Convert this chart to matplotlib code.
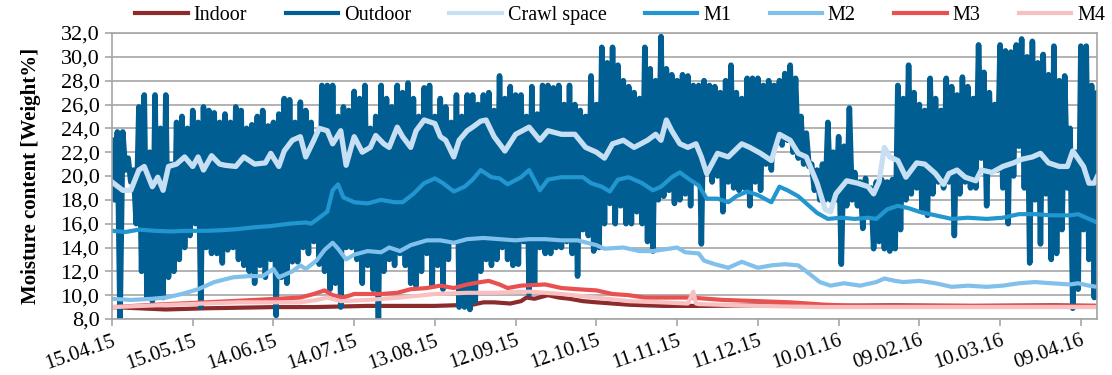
import numpy as np
import pandas as pd
import matplotlib
matplotlib.use('Agg')
import matplotlib.pyplot as plt
from matplotlib.ticker import FuncFormatter

plt.rcParams['font.family'] = ['Liberation Serif', 'DejaVu Serif']

start = pd.Timestamp('2015-04-15')

# outdoor: one peak and one trough every two days (days 0, 2, ..., 366)
outdoor_hi = [23.0, 23.7, 23.7, 21.5, 20.5, 25.8, 26.8, 22.0, 26.8, 24.0, 26.8, 21.0, 24.5, 25.0, 24.0,
              25.5, 24.5, 25.8, 25.5, 25.3, 24.5, 25.2, 24.5, 25.8, 25.5, 24.0, 24.3, 25.0, 25.5, 24.2,
              24.5, 25.2, 26.5, 26.4, 24.5, 26.2, 25.5, 24.5, 23.5, 27.6, 27.6, 27.6, 25.0, 25.8, 25.5,
              27.1, 26.5, 27.6, 24.0, 25.0, 27.6, 26.5, 25.8, 27.6, 27.0, 27.8, 26.5, 25.0, 27.4, 27.6,
              25.0, 26.5, 25.8, 24.5, 26.8, 25.0, 26.8, 26.8, 26.0, 26.8, 27.0, 25.5, 28.4, 26.5, 27.5,
              26.8, 26.8, 25.0, 27.5, 25.2, 27.6, 27.6, 27.4, 27.6, 26.0, 27.6, 26.0, 25.5, 25.0, 28.4,
              26.0, 30.8, 29.5, 30.8, 29.3, 28.0, 27.5, 27.0, 26.5, 30.8, 29.0, 28.0, 31.7, 29.0, 28.5,
              28.0, 28.5, 28.4, 27.6, 27.6, 28.0, 27.6, 27.5, 27.0, 28.0, 29.3, 27.0, 26.5, 28.2, 28.2,
              28.2, 27.6, 28.0, 27.6, 28.0, 28.6, 29.3, 28.2, 25.0, 23.6, 21.0, 20.5, 21.0, 24.5, 22.0,
              23.3, 22.5, 25.7, 20.3, 19.5, 19.8, 19.0, 19.5, 19.7, 19.5, 19.7, 27.6, 26.5, 29.3, 27.0,
              26.0, 25.5, 28.2, 26.5, 25.5, 28.2, 27.5, 26.8, 28.3, 27.5, 26.5, 31.0, 28.7, 27.0, 26.0,
              31.0, 30.5, 30.4, 31.0, 31.5, 30.0, 31.3, 29.5, 30.2, 28.5, 30.9, 28.0, 28.4, 24.0, 22.0,
              30.9, 30.9, 27.6, 27.0]
outdoor_lo = [18.0, 8.0, 20.5, 19.5, 16.0, 12.0, 9.8, 9.5, 10.0, 9.8, 11.5, 12.0, 13.0, 14.0, 15.0,
              16.0, 9.0, 14.0, 13.5, 13.5, 12.7, 13.8, 14.0, 13.0, 12.5, 12.0, 11.0, 12.5, 11.5, 13.0,
              8.3, 11.5, 11.0, 12.8, 12.8, 14.0, 13.5, 14.5, 12.6, 12.0, 10.5, 11.0, 9.0, 14.0, 14.0,
              13.0, 11.0, 12.5, 10.5, 8.0, 12.0, 13.0, 12.5, 13.5, 12.5, 11.0, 10.8, 12.0, 13.5, 10.8,
              12.5, 10.5, 13.0, 14.5, 9.0, 9.0, 8.8, 9.5, 12.0, 13.0, 12.5, 13.0, 14.0, 13.0, 12.5,
              12.6, 14.5, 10.1, 11.0, 14.0, 13.5, 13.5, 14.0, 14.0, 14.5, 13.5, 11.6, 15.5, 15.0, 13.7,
              14.0, 16.0, 17.7, 16.0, 17.5, 16.0, 16.0, 17.0, 16.0, 14.5, 13.7, 18.0, 18.3, 18.8, 17.7,
              18.0, 18.5, 17.5, 19.5, 14.3, 20.5, 19.5, 20.0, 17.0, 19.5, 19.0, 18.8, 19.0, 17.5, 19.5,
              18.8, 21.0, 20.5, 23.0, 22.6, 23.0, 22.0, 21.5, 21.0, 20.8, 18.8, 18.0, 18.0, 18.0, 18.0,
              12.6, 17.5, 18.0, 17.5, 15.6, 16.7, 13.9, 14.5, 13.9, 13.7, 13.9, 15.5, 18.0, 18.5, 19.0,
              17.0, 16.7, 18.5, 19.5, 19.0, 19.5, 15.0, 18.5, 19.5, 19.0, 19.0, 21.5, 17.5, 20.5, 20.5,
              19.0, 16.0, 20.0, 22.5, 19.0, 12.7, 18.0, 14.3, 18.5, 13.0, 13.5, 15.5, 19.0, 8.9, 10.5,
              15.5, 13.0, 9.8, 8.0]

crawl_day = [0, 4, 7, 10, 12, 15, 17, 19, 21, 24, 27, 30, 32, 34, 37, 40, 42, 46, 49, 53,
             57, 59, 62, 64, 67, 70, 72, 75, 77, 80, 82, 85, 87, 90, 93, 96, 98, 101, 103, 106,
             108, 111, 113, 116, 120, 122, 124, 127, 129, 132, 134, 137, 139, 142, 146, 150, 155, 159, 162, 167,
             172, 176, 180, 183, 186, 190, 194, 199, 202, 204, 206, 208, 211, 214, 217, 219, 221, 225, 229, 234,
             237, 241, 245, 248, 252, 255, 258, 262, 265, 267, 269, 273, 277, 281, 283, 285, 287, 289, 292, 295,
             299, 302, 306, 309, 311, 314, 317, 321, 323, 327, 331, 335, 338, 342, 345, 348, 352, 355, 357, 361,
             363, 365, 366]
crawl_val = [19.5, 18.8, 18.8, 20.5, 20.8, 19.1, 19.9, 18.8, 20.8, 21.0, 21.6, 20.8, 21.6, 20.5, 21.7, 21.0, 20.9, 20.8, 21.6, 21.0,
             21.1, 21.9, 20.8, 22.1, 23.0, 23.3, 21.6, 23.0, 24.0, 23.8, 22.7, 23.8, 20.9, 23.3, 22.0, 22.4, 23.4, 22.7, 22.4, 24.1,
             23.3, 22.4, 23.8, 24.7, 24.4, 23.3, 23.0, 21.6, 23.0, 23.8, 24.1, 24.6, 24.7, 23.3, 22.1, 23.5, 24.1, 23.0, 23.8, 23.5,
             23.5, 22.4, 22.0, 21.5, 22.7, 23.0, 22.4, 23.0, 23.5, 23.0, 24.7, 23.8, 22.7, 22.4, 22.7, 21.6, 20.2, 21.9, 21.6, 22.7,
             22.4, 21.9, 21.3, 23.5, 23.0, 21.9, 21.6, 19.4, 17.2, 17.0, 18.5, 19.6, 19.4, 19.1, 18.5, 19.5, 22.4, 21.6, 21.3, 19.9,
             21.1, 21.0, 20.2, 19.3, 20.2, 20.5, 19.9, 19.6, 20.5, 20.3, 20.8, 21.1, 21.4, 21.6, 21.9, 21.1, 20.8, 20.8, 22.1, 20.8,
             19.4, 19.4, 19.9]

m1_day = [0, 5, 10, 16, 22, 28, 35, 41, 47, 53, 59, 66, 72, 74, 77, 80, 82, 84, 86, 90,
          95, 100, 105, 108, 112, 116, 120, 123, 127, 131, 134, 137, 141, 144, 147, 152, 155, 159, 162, 167,
          172, 175, 178, 182, 185, 188, 192, 197, 201, 204, 208, 211, 214, 218, 221, 225, 229, 232, 236, 240,
          245, 248, 251, 255, 258, 262, 266, 271, 276, 281, 284, 288, 292, 296, 300, 306, 312, 318, 325, 331,
          337, 343, 349, 356, 359, 363, 366]
m1_val = [15.4, 15.3, 15.5, 15.4, 15.35, 15.4, 15.4, 15.45, 15.55, 15.7, 15.8, 16.0, 16.1, 16.0, 16.5, 17.0, 18.8, 19.3, 18.2, 17.8,
          17.7, 18.0, 17.8, 17.8, 18.5, 19.4, 19.8, 19.4, 18.7, 19.1, 19.7, 20.5, 19.9, 19.8, 19.3, 19.9, 20.5, 18.8, 19.7, 19.9,
          19.9, 19.9, 19.4, 19.1, 18.7, 19.7, 19.9, 19.4, 18.8, 19.1, 19.9, 20.3, 19.8, 19.2, 18.1, 18.1, 17.8, 18.3, 18.7, 18.4,
          17.8, 19.1, 18.8, 18.3, 17.7, 16.9, 16.4, 16.5, 16.4, 16.5, 16.4, 17.2, 17.5, 17.3, 17.0, 16.7, 16.4, 16.5, 16.4, 16.5,
          16.8, 16.8, 16.7, 16.7, 16.8, 16.4, 16.1]

m2_day = [0, 7, 15, 20, 26, 32, 38, 45, 51, 56, 60, 62, 67, 70, 72, 76, 79, 82, 84, 87,
          90, 95, 100, 103, 107, 111, 117, 122, 127, 132, 138, 144, 150, 155, 161, 167, 173, 180, 183, 190,
          196, 201, 207, 210, 213, 218, 220, 224, 229, 234, 240, 245, 250, 255, 258, 263, 267, 272, 278, 284,
          287, 291, 294, 300, 306, 312, 318, 325, 331, 337, 343, 349, 356, 359, 363, 366]
m2_val = [9.7, 9.6, 9.7, 9.8, 10.1, 10.5, 11.1, 11.5, 11.6, 11.6, 12.2, 11.5, 12.0, 12.5, 12.2, 12.9, 13.8, 14.4, 13.9, 13.0,
          13.4, 13.7, 13.6, 14.0, 13.7, 14.2, 14.6, 14.6, 14.4, 14.7, 14.8, 14.7, 14.6, 14.7, 14.7, 14.6, 14.6, 14.2, 13.9, 14.0,
          13.7, 13.7, 13.9, 14.0, 13.6, 13.5, 12.9, 12.6, 12.3, 12.8, 12.3, 12.5, 12.6, 12.5, 12.0, 11.1, 10.8, 11.0, 10.8, 11.1,
          11.4, 11.2, 11.1, 11.2, 11.0, 10.7, 10.8, 10.7, 10.8, 11.0, 11.1, 11.0, 10.9, 11.0, 10.8, 10.7]

m3_day = [0, 16, 35, 53, 70, 75, 79, 82, 86, 90, 95, 100, 106, 111, 117, 122, 127, 132, 137, 140,
          144, 147, 152, 161, 167, 173, 180, 186, 192, 198, 205, 215, 227, 240, 252, 265, 277, 289, 366]
m3_val = [9.0, 9.2, 9.4, 9.6, 9.8, 10.1, 10.4, 10.0, 9.8, 10.1, 10.1, 10.1, 10.2, 10.5, 10.6, 10.8, 10.6, 10.9, 11.1, 11.2,
          10.9, 10.6, 10.8, 10.9, 10.6, 10.5, 10.4, 10.1, 10.0, 9.8, 9.8, 9.8, 9.6, 9.5, 9.4, 9.2, 9.1, 9.1, 9.1]

m4_day = [0, 22, 47, 70, 76, 80, 85, 95, 107, 120, 132, 142, 155, 167, 180, 192, 204, 214, 216, 217,
          218, 240, 265, 290, 366]
m4_val = [9.0, 9.2, 9.4, 9.4, 9.6, 9.8, 9.5, 9.6, 9.8, 10.1, 10.2, 10.2, 10.3, 10.1, 9.8, 9.5, 9.4, 9.3, 10.3, 9.3,
          9.25, 9.1, 9.0, 9.0, 9.0]

indoor_day = [0, 10, 20, 35, 60, 75, 95, 120, 134, 138, 142, 148, 152, 154, 157, 162, 166, 170, 175, 180,
              186, 192, 198, 205, 220, 240, 260, 290, 320, 350, 366]
indoor_val = [9.0, 8.9, 8.8, 8.9, 9.0, 9.0, 9.1, 9.1, 9.2, 9.4, 9.4, 9.3, 9.5, 9.8, 9.7, 10.0, 9.8, 9.7, 9.5, 9.4,
              9.3, 9.2, 9.15, 9.1, 9.1, 9.15, 9.1, 9.15, 9.1, 9.15, 9.1]


def to_dates(days):
    return start + pd.to_timedelta(np.asarray(days, dtype=float), unit='D')


# interleave peaks and troughs of the outdoor series
hi_days = np.arange(len(outdoor_hi)) * 2
out_days = np.empty(2 * len(hi_days))
out_days[0::2] = hi_days
out_days[1::2] = hi_days + 1
out_vals = np.empty(2 * len(hi_days))
out_vals[0::2] = outdoor_hi
out_vals[1::2] = outdoor_lo

fig = plt.figure(figsize=(11.12, 3.75), dpi=100)
ax = fig.add_axes([0.1007, 0.1493, 0.8858, 0.7627])

lw = 3.0
ax.plot(to_dates(indoor_day), indoor_val, color='#8C2B2B', lw=lw, label='Indoor')
ax.plot(to_dates(out_days), out_vals, color='#005E93', lw=4.0, label='Outdoor')
ax.plot(to_dates(crawl_day), crawl_val, color='#C6DFF3', lw=lw + 0.8, label='Crawl space')
ax.plot(to_dates(m1_day), m1_val, color='#2196CF', lw=lw, label='M1')
ax.plot(to_dates(m2_day), m2_val, color='#80C0EA', lw=lw, label='M2')
ax.plot(to_dates(m3_day), m3_val, color='#E8514F', lw=lw, label='M3')
ax.plot(to_dates(m4_day), m4_val, color='#F9C0C1', lw=lw, label='M4')

ax.set_xlim(start, start + pd.Timedelta(days=366))
ax.set_ylim(8, 32)
ax.set_yticks(np.arange(8, 33, 2))
ax.yaxis.set_major_formatter(FuncFormatter(lambda v, p: f'{v:.1f}'.replace('.', ',')))

ticks = [start + pd.Timedelta(days=30 * k) for k in range(13)]
ax.set_xticks(ticks)
ax.set_xticklabels([t.strftime('%d.%m.%y') for t in ticks], rotation=19, ha='right',
                   rotation_mode='anchor')

ax.grid(axis='y', color='#A6A6A6', lw=1.2)
ax.set_axisbelow(True)
for s in ax.spines.values():
    s.set_color('#A6A6A6')
    s.set_linewidth(1.2)
ax.tick_params(axis='both', colors='#A6A6A6', width=1.2, length=5, labelcolor='black')
ax.tick_params(axis='y', pad=4, labelsize=16)
ax.tick_params(axis='x', pad=4, labelsize=15)

ax.set_ylabel('Moisture content [Weight%]', fontsize=15, fontweight='bold', labelpad=14)

leg = ax.legend(loc='center', bbox_to_anchor=(0.516, 1.06), ncol=7, frameon=False, fontsize=14.5,
                handlelength=2.6, handletextpad=0.3, columnspacing=1.9, borderaxespad=0)
for h in leg.get_lines():
    h.set_linewidth(3.0)

fig.savefig('out.png', dpi=100)
